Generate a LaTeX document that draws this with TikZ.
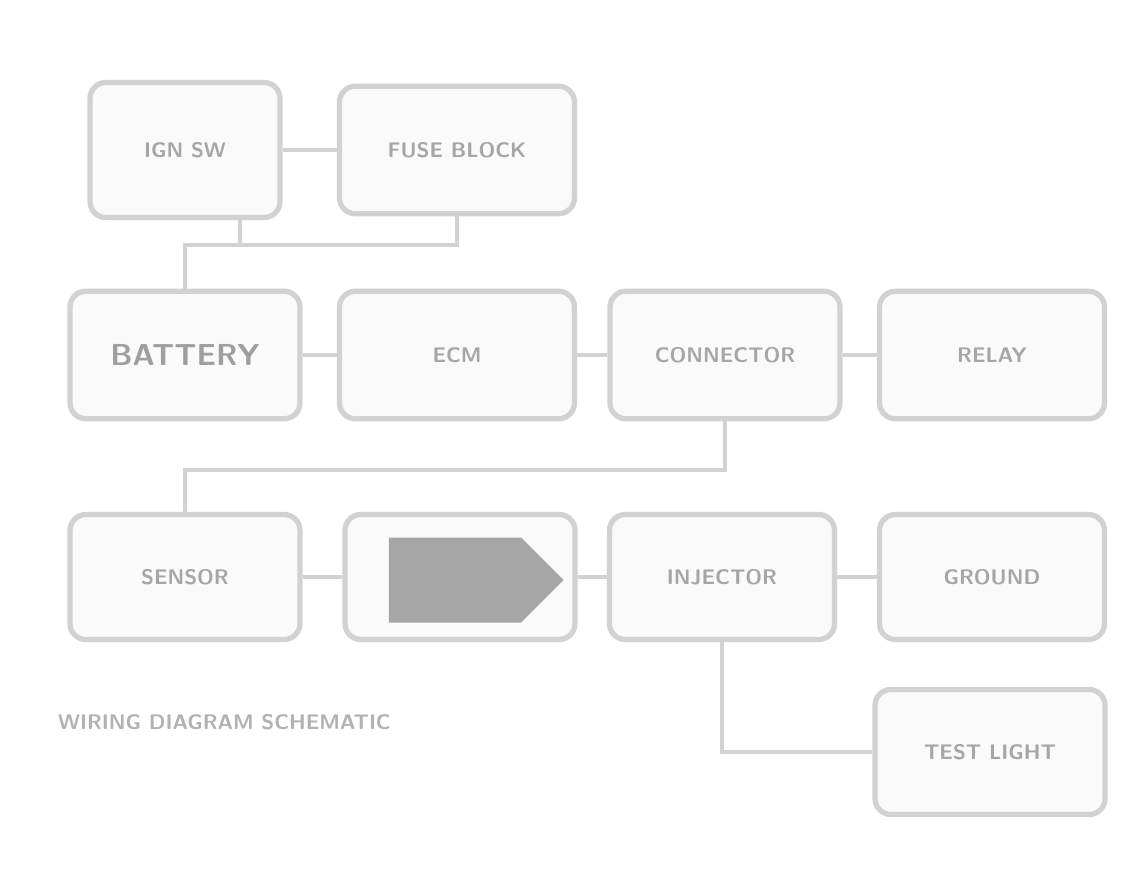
\documentclass[tikz,border=0pt]{standalone}
\usetikzlibrary{shapes.symbols}

\tikzset{
  blk/.style={draw=gray!35, line width=3pt, rounded corners=9pt, fill=gray!4,
    minimum width=4.6cm, minimum height=2.55cm, text=gray!70, font=\sffamily\bfseries\large},
  wire/.style={draw=gray!35, line width=2.5pt}
}

\begin{document}
\begin{tikzpicture}[x=0.02cm,y=-0.02cm]

        \useasboundingbox (0,0) rectangle (1143,890);

        % top row
        \node[blk, minimum width=3.8cm, minimum height=2.7cm] (ign) at (185,150) {IGN SW};
        \node[blk, minimum width=4.7cm] (fuse) at (457,150) {FUSE BLOCK};

        % second row
        \node[blk, font=\sffamily\bfseries\LARGE, text=gray!75] (batt) at (185,355) {BATTERY};
        \node[blk, minimum width=4.7cm] (ecm) at (457,355) {ECM};
        \node[blk] (conn) at (725,355) {CONNECTOR};
        \node[blk, minimum width=4.5cm] (relay) at (992,355) {RELAY};

        % third row
        \node[blk, minimum height=2.5cm] (sens) at (185,577) {SENSOR};
        \node[blk, minimum height=2.5cm] (mod) at (460,577) {};
        \node[signal, signal to=east, fill=gray!70, minimum width=3.5cm, minimum height=1.7cm] (modin) at (455,580) {};
        \node[blk, minimum width=4.5cm, minimum height=2.5cm] (inj) at (722,577) {INJECTOR};
        \node[blk, minimum width=4.5cm, minimum height=2.5cm] (gnd) at (992,577) {GROUND};

        % fourth row
        \node[blk, minimum height=2.5cm] (lamp) at (990,752) {TEST LIGHT};

        \node[text=gray!60, font=\sffamily\bfseries\large, anchor=west] (cap) at (52,722) {WIRING DIAGRAM SCHEMATIC};

        \coordinate (j1) at (185,245);
        \coordinate (j2) at (185,470);

        \draw[wire] (ign) -- (fuse);
        \draw[wire] (fuse.south) |- (j1) -- (batt.north);
        \draw[wire] ([xshift=1.1cm]ign.south) -- ([xshift=1.1cm]ign.south |- j1);

        \draw[wire] (batt) -- (ecm);
        \draw[wire] (ecm) -- (conn);
        \draw[wire] (conn) -- (relay);
        \draw[wire] (conn.south) |- (j2) -- (sens.north);

        \draw[wire] (sens) -- (mod);
        \draw[wire] (mod) -- (inj);
        \draw[wire] (inj) -- (gnd);
        \draw[wire] (inj.south) |- (lamp.west);

      \end{tikzpicture}
\end{document}
